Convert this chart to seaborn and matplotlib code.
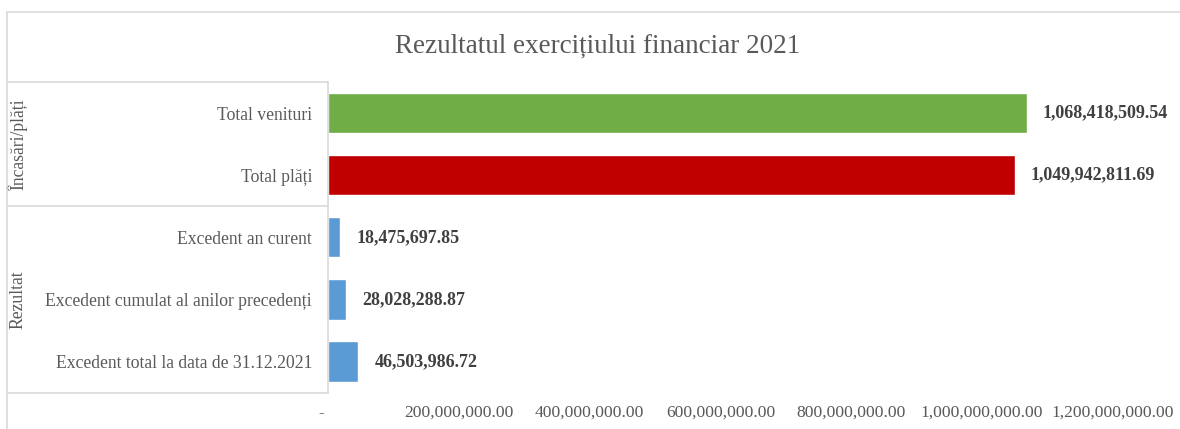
import matplotlib.pyplot as plt
import matplotlib.transforms as mtransforms
import pandas as pd
import seaborn as sns

# values
categories = [
    "Total venituri",
    "Total plăți",
    "Excedent an curent",
    "Excedent cumulat al anilor precedenți",
    "Excedent total la data de 31.12.2021",
]
values = [
    1068418509.54,
    1049942811.69,
    18475697.85,
    28028288.87,
    46503986.72,
]
bar_colors = ["#70AD47", "#C00000", "#5B9BD5", "#5B9BD5", "#5B9BD5"]
groups = ["Încasări/plăți", "Încasări/plăți", "Rezultat", "Rezultat", "Rezultat"]
x_ticks = [0, 200e6, 400e6, 600e6, 800e6, 1000e6, 1200e6]
title = "Rezultatul exercițiului financiar 2021"

df = pd.DataFrame({"categorie": categories, "valoare": values, "grup": groups})

sns.set_style("white")
plt.rcParams["font.family"] = ["Liberation Serif", "DejaVu Serif"]

W, H = 1180, 429
fig = plt.figure(figsize=(W / 100, H / 100), dpi=100)
ax = fig.add_axes([328 / W, 1 - 392.5 / H, (1113 - 328) / W, (392.5 - 82) / H])

sns.barplot(
    data=df,
    y="categorie",
    x="valoare",
    hue="categorie",
    palette=dict(zip(categories, bar_colors)),
    orient="h",
    width=0.65,
    legend=False,
    saturation=1,
    ax=ax,
)

ax.set_xlim(0, 1.2e9)
ax.set_ylim(len(categories) - 0.5, -0.5)
ax.set_xticks(x_ticks)
ax.set_xticklabels(
    ["-   " if t == 0 else f"{t:,.2f}" for t in x_ticks], fontsize=12.6, color="#595959"
)
ax.set_yticks(range(len(categories)))
ax.set_yticklabels(categories, fontsize=12.7, color="#595959")
ax.tick_params(axis="y", length=0, pad=11.5)
ax.tick_params(axis="x", length=0, pad=9)
ax.set_xlabel("")
ax.set_ylabel("")
for s in ax.spines.values():
    s.set_visible(False)

for cont in ax.containers:
    ax.bar_label(
        cont,
        labels=[f"{v:,.2f}" for v in cont.datavalues],
        padding=11.5,
        fontsize=13,
        fontweight="bold",
        color="#404040",
    )

fig.text(598 / W, 1 - 46 / H, title, ha="center", va="center",
         fontsize=19.5, color="#595959")

# category box and chart border
line_kw = dict(color="#d9d9d9", lw=1.2, clip_on=False)
fig.add_artist(plt.Line2D([7 / W, 1], [1 - 12 / H, 1 - 12 / H], transform=fig.transFigure, **line_kw))
fig.add_artist(plt.Line2D([7 / W, 7 / W], [0, 1 - 12 / H], transform=fig.transFigure, **line_kw))

trans = mtransforms.blended_transform_factory(fig.transFigure, ax.transData)
edges = [-0.5, 1.5, 4.5]
for yv in edges:
    ax.plot([7 / W, 328 / W], [yv, yv], transform=trans, **line_kw)
ax.plot([328 / W, 328 / W], [-0.5, 4.5], transform=trans, **line_kw)

group_names = list(dict.fromkeys(groups))
for i, g in enumerate(group_names):
    yc = (edges[i] + edges[i + 1]) / 2
    ax.text(18 / W, yc, g, transform=trans, rotation=90, ha="center", va="center",
            fontsize=12.7, color="#595959")

fig.savefig("out.png", dpi=100)
